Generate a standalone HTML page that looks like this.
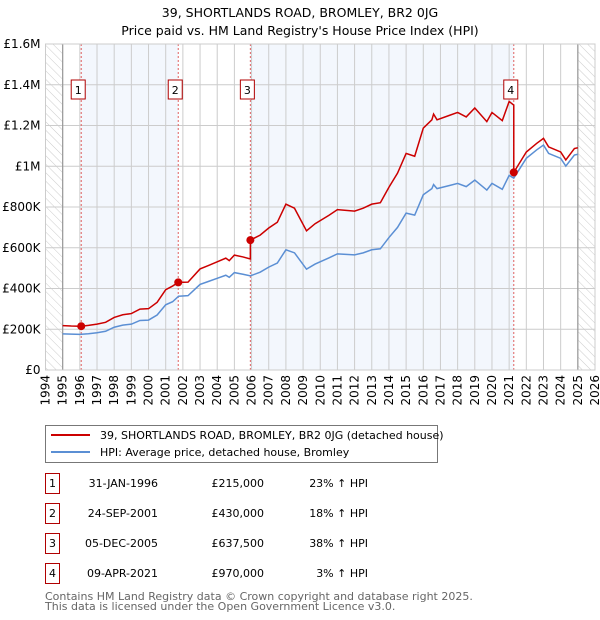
<!DOCTYPE html>
<html><head><meta charset="utf-8"><style>
body{margin:0;background:#fff;font-family:"DejaVu Sans","Liberation Sans",sans-serif;}
svg{display:block}
</style></head><body>
<svg id="c" width="600" height="620" viewBox="0 0 600 620" xmlns="http://www.w3.org/2000/svg">
<defs><pattern id="hatch" width="6" height="6" patternUnits="userSpaceOnUse" patternTransform="rotate(-45)"><line x1="0" y1="0" x2="0" y2="6" stroke="#ccc" stroke-width="1"/></pattern></defs>
<text x="300" y="17" text-anchor="middle" font-size="12.5">39, SHORTLANDS ROAD, BROMLEY, BR2 0JG</text>
<text x="300" y="35" text-anchor="middle" font-size="12.5">Price paid vs. HM Land Registry's House Price Index (HPI)</text>
<g id="plot"></g>
<g>
<rect x="45.5" y="425.5" width="392" height="37" fill="#fff" stroke="#777"/>
<line x1="51" y1="435" x2="90" y2="435" stroke="#cc0000" stroke-width="2"/>
<text x="100" y="439" font-size="11">39, SHORTLANDS ROAD, BROMLEY, BR2 0JG (detached house)</text>
<line x1="51" y1="452" x2="90" y2="452" stroke="#5b8fd4" stroke-width="2"/>
<text x="100" y="456" font-size="11">HPI: Average price, detached house, Bromley</text>
</g>
<g id="table" font-size="11"></g>
<text x="45" y="600" font-size="11" fill="#666">Contains HM Land Registry data © Crown copyright and database right 2025.</text>
<text x="45" y="610" font-size="11" fill="#666">This data is licensed under the Open Government Licence v3.0.</text>
</svg>
<script>
const hpiDates=[1995.0,1995.5,1996.0,1996.5,1997.0,1997.5,1998.0,1998.5,1999.0,1999.5,2000.0,2000.5,2001.0,2001.4,2001.75,2002.3,2003.0,2003.5,2004.0,2004.5,2004.7,2005.0,2005.5,2005.93,2006.5,2007.0,2007.5,2008.0,2008.5,2009.2,2009.7,2010.5,2011.0,2012.0,2012.5,2013.0,2013.5,2014.0,2014.5,2015.0,2015.5,2016.0,2016.5,2016.6,2016.8,2017.5,2018.0,2018.5,2019.0,2019.7,2020.0,2020.6,2021.0,2021.27,2022.0,2022.6,2023.0,2023.3,2024.0,2024.3,2024.8,2025.0];
const hpiValues=[177,176,175,178,183,190,210,220,225,243,245,270,320,335,362,365,420,435,450,465,455,478,470,462,480,505,525,590,575,495,520,550,570,565,575,590,595,650,700,770,760,860,890,910,890,905,916,900,932,883,916,887,955,942,1039,1080,1104,1063,1039,1001,1055,1059];
const priceDates=[1995.0,1995.5,1996.0,1996.08,1996.5,1997.0,1997.5,1998.0,1998.5,1999.0,1999.5,2000.0,2000.5,2001.0,2001.4,2001.73,2002.3,2003.0,2003.5,2004.0,2004.5,2004.7,2005.0,2005.5,2005.93,2005.93,2006.5,2007.0,2007.5,2008.0,2008.5,2009.2,2009.7,2010.5,2011.0,2012.0,2012.5,2013.0,2013.5,2014.0,2014.5,2015.0,2015.5,2016.0,2016.5,2016.6,2016.8,2017.5,2018.0,2018.5,2019.0,2019.7,2020.0,2020.6,2021.0,2021.27,2021.27,2022.0,2022.6,2023.0,2023.3,2024.0,2024.3,2024.8,2025.0];
const priceValues=[218,216,215,215,219,225,234,258,271,277,299,301,332,394,412,430,431,496,513,531,549,537,564,555,545,637.5,662,697,725,814,794,683,718,759,787,780,794,814,821,897,966,1063,1049,1187,1228,1256,1228,1249,1264,1242,1286,1219,1264,1224,1318,1300,970,1070,1112,1137,1095,1070,1031,1087,1091];
const saleLabels=["1","2","3","4"];
const saleDates=[1996.08,2001.73,2005.93,2021.27];
const salePrices=[215,430,637.5,970];
const saleDateText=["31-JAN-1996","24-SEP-2001","05-DEC-2005","09-APR-2021"];
const salePriceText=["£215,000","£430,000","£637,500","£970,000"];
const saleHpiText=["23% ↑ HPI","18% ↑ HPI","38% ↑ HPI","3% ↑ HPI"];
const yTicks=[0,200,400,600,800,1000,1200,1400,1600];
const yTickLabels=["£0","£200K","£400K","£600K","£800K","£1M","£1.2M","£1.4M","£1.6M"];
const xTicks=[1994,1995,1996,1997,1998,1999,2000,2001,2002,2003,2004,2005,2006,2007,2008,2009,2010,2011,2012,2013,2014,2015,2016,2017,2018,2019,2020,2021,2022,2023,2024,2025,2026];

const L=45.5,R=595,T=44,B=370;
const x=v=>L+(v-1994)/(2026-1994)*(R-L);
const y=v=>B-v/1600*(B-T);
const NS="http://www.w3.org/2000/svg";
const plot=document.getElementById('plot');
function mk(tag,attrs,parent){const e=document.createElementNS(NS,tag);for(const k in attrs)e.setAttribute(k,attrs[k]);(parent||plot).appendChild(e);return e;}

let e;
e=mk('rect',{x:x(saleDates[0]),y:T,width:x(saleDates[1])-x(saleDates[0]),height:B-T,fill:'#eef3fc',opacity:0.7});


e=mk('rect',{x:x(saleDates[2]),y:T,width:x(saleDates[3])-x(saleDates[2]),height:B-T,fill:'#eef3fc',opacity:0.7});


e=mk('rect',{x:x(1994),y:T,width:x(1995)-x(1994),height:B-T,fill:'url(#hatch)'});


e=mk('rect',{x:x(2025),y:T,width:x(2026)-x(2025),height:B-T,fill:'url(#hatch)'});



yTicks.forEach((t,i)=>{
  e=mk('line',{x1:L,x2:R,y1:y(t),y2:y(t),stroke:'#ccc','stroke-width':1});
  
  
  e=mk('text',{x:L-5,y:y(t)+4,'text-anchor':'end','font-size':12});
  
  
  e.textContent=yTickLabels[i];
});
xTicks.forEach(t=>{
  e=mk('line',{x1:x(t),x2:x(t),y1:T,y2:B,stroke:'#ccc','stroke-width':1});
  
  
  e=mk('text',{transform:`translate(${x(t)+4},${B+5}) rotate(-90)`,'text-anchor':'end','font-size':12});
  
  
  e.textContent=t;
});
e=mk('line',{x1:x(1995),x2:x(1995),y1:T,y2:B,stroke:'#999','stroke-width':1.2});


e=mk('line',{x1:x(2025),x2:x(2025),y1:T,y2:B,stroke:'#999','stroke-width':1.2});



saleDates.forEach(d=>{
  e=mk('line',{x1:x(d),x2:x(d),y1:T,y2:B,stroke:'#e06060','stroke-width':1,'stroke-dasharray':'2,2'});
  
  
});

e=mk('polyline',{points:hpiDates.map((d,i)=>x(d)+','+y(hpiValues[i])).join(' '),fill:'none',stroke:'#5b8fd4','stroke-width':1.5});


e=mk('polyline',{points:priceDates.map((d,i)=>x(d)+','+y(priceValues[i])).join(' '),fill:'none',stroke:'#cc0000','stroke-width':1.5});



saleDates.forEach((d,i)=>{
  e=mk('circle',{cx:x(d),cy:y(salePrices[i]),r:4,fill:'#cc0000'});
  
  
  const bx=x(d)-3, by=80;
  e=mk('rect',{x:bx-7,y:by,width:14,height:19,fill:'#fff',stroke:'#b00000'});
  
  
  e=mk('text',{x:bx,y:by+14,'text-anchor':'middle','font-size':11});
  
  
  e.textContent=saleLabels[i];
});
e=mk('rect',{x:L,y:T,width:R-L,height:B-T,fill:'none',stroke:'#ccc'});



const tbl=document.getElementById('table');
saleLabels.forEach((s,i)=>{
  const cy=483+i*30;
  e=mk('rect',{x:45.5,y:cy-9.5,width:14,height:20,fill:'#fff',stroke:'#b00000'},tbl);
  
  
  e=mk('text',{x:52.5,y:cy+4,'text-anchor':'middle'},tbl);
  
  
  e.textContent=s;
  e=mk('text',{x:158,y:cy+4,'text-anchor':'end'},tbl);
  
  
  e.textContent=saleDateText[i];
  e=mk('text',{x:264,y:cy+4,'text-anchor':'end'},tbl);
  
  
  e.textContent=salePriceText[i];
  e=mk('text',{x:368,y:cy+4,'text-anchor':'end'},tbl);
  
  
  e.textContent=saleHpiText[i];
});
</script>
</body></html>
